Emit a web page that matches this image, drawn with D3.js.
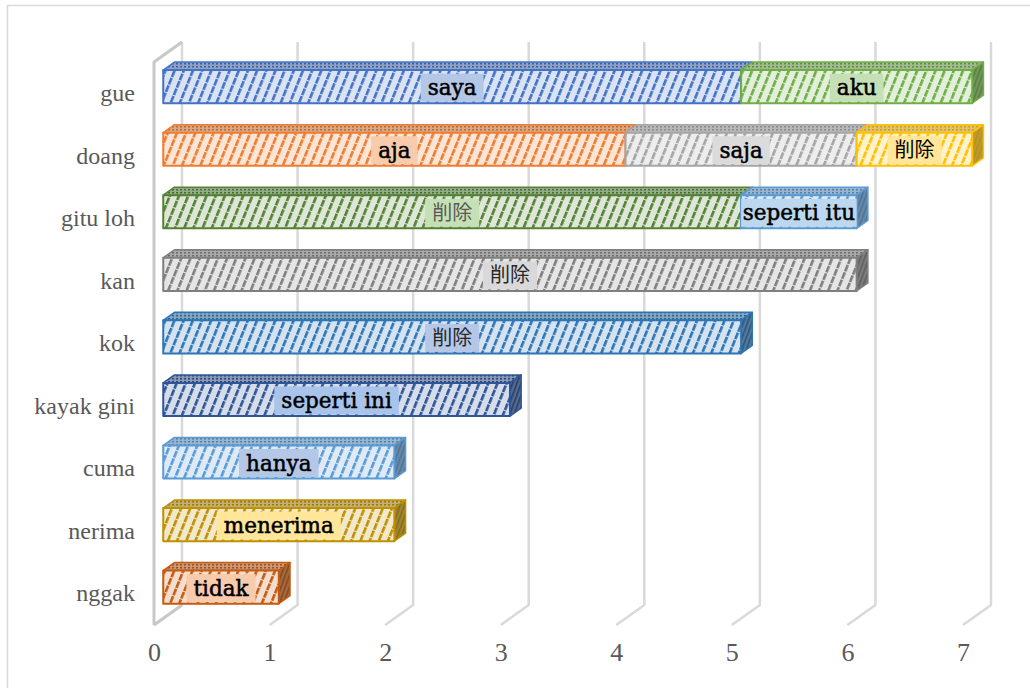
<!DOCTYPE html>
<html>
<head>
<meta charset="utf-8">
<script src="https://cdn.jsdelivr.net/npm/d3@7"></script>
<style>
  html, body { margin: 0; padding: 0; background: #fff; }
  svg { display: block; }
</style>
</head>
<body>
<svg id="chart" width="1030" height="688"></svg>
<script>
// ---------- data ----------
const categories = ["gue", "doang", "gitu loh", "kan", "kok", "kayak gini", "cuma", "nerima", "nggak"];
const segmentLabels = [
  ["saya", "aku"],
  ["aja", "saja", "削除"],
  ["削除", "seperti itu"],
  ["削除"],
  ["削除"],
  ["seperti ini"],
  ["hanya"],
  ["menerima"],
  ["tidak"]
];
const segmentValues = [
  [5, 2],
  [4, 2, 1],
  [5, 1],
  [6],
  [5],
  [3],
  [2],
  [2],
  [1]
];
const tickValues = [0, 1, 2, 3, 4, 5, 6, 7];

// ---------- styles ----------
const segmentColors = [
  ["#4472c4", "#70ad47"],
  ["#ed7d31", "#a5a5a5", "#ffc000"],
  ["#548235", "#5b9bd5"],
  ["#7f7f7f"],
  ["#2e75b6"],
  ["#2f5597"],
  ["#5b9bd5"],
  ["#bf9000"],
  ["#c55a11"]
];
const labelBgColors = [
  ["#b4c7e7", "#c5e0b4"],
  ["#f8cbad", "#dbdbdb", "#ffe699"],
  ["#c5e0b4", "#bdd7ee"],
  ["#d9d9d9"],
  ["#b4c7e7"],
  ["#a9c4eb"],
  ["#b4c7e7"],
  ["#ffe699"],
  ["#f8cbad"]
];
const labelTextColors = [
  ["#000", "#000"],
  ["#000", "#000", "#000"],
  ["#595959", "#000"],
  ["#262626"],
  ["#262626"],
  ["#000"],
  ["#000"],
  ["#000"],
  ["#000"]
];

const svg = d3.select("#chart");

// chart border
svg.append("rect").attr("x", 7.5).attr("y", 5.5).attr("width", 1040).attr("height", 700)
  .attr("fill", "none").attr("stroke", "#d9d9d9").attr("stroke-width", 1.5);

// 3D geometry
const depthDX = 28, depthDY = -20;        // full depth offset of the walls
const barD0 = 0.33, barD1 = 0.73;         // bar depth range (fraction)
const x = d3.scaleLinear().domain([0, 7]).range([154, 963]);  // front plane
const y = d3.scaleBand().domain(categories).range([62, 625]).paddingInner(0.47).paddingOuter(0.235);
const floorY = 625, ceilY = 62;
const P = (v, yy, d) => [x(v) + depthDX * d, yy + depthDY * d];

// gridlines (back plane) + floor
const grid = svg.append("g");
tickValues.forEach(t => {
  const b = P(t, 0, 1)[0];
  const f = x(t);
  grid.append("path")
    .attr("d", `M${b},${ceilY + depthDY} L${b},${floorY + depthDY} L${f},${floorY}`)
    .attr("fill", "none").attr("stroke", "#d9d9d9").attr("stroke-width", 2.5)
    .attr("stroke-linejoin", "round");
});
// left wall
svg.append("path")
  .attr("d", `M${x(0)},${floorY} L${x(0)},${ceilY} L${x(0) + depthDX},${ceilY + depthDY}`)
  .attr("fill", "none").attr("stroke", "#c8c8c8").attr("stroke-width", 3).attr("stroke-linejoin", "round");
svg.append("path")
  .attr("d", `M${x(0)},${floorY} L${x(0) + depthDX},${floorY + depthDY}`)
  .attr("fill", "none").attr("stroke", "#c8c8c8").attr("stroke-width", 3);

// axis tick labels
const xAxis = d3.axisBottom(x).tickValues(tickValues).tickSize(0).tickPadding(0).tickFormat(d3.format("d"));
const gx = svg.append("g").attr("transform", `translate(0,${643})`).call(xAxis);
gx.select(".domain").remove();
gx.selectAll("text").attr("font-family", "'Liberation Serif', serif").attr("font-size", 26)
  .attr("fill", "#595959").attr("dy", "0.71em");

// category labels
const yAxis = d3.axisLeft(y).tickSize(0).tickPadding(0);
const gy = svg.append("g").attr("transform", `translate(135,0)`).call(yAxis);
gy.select(".domain").remove();
gy.selectAll("text").attr("font-family", "'Liberation Serif', serif").attr("font-size", 24)
  .attr("fill", "#595959").attr("dy", "0.32em");

// patterns
const defs = svg.append("defs");
const mix = (a, b, t) => d3.interpolateRgb(a, b)(t);
function makePatterns(id, c) {
  const light = mix(c, "#ffffff", 0.8);
  const p1 = defs.append("pattern").attr("id", "f" + id).attr("patternUnits", "userSpaceOnUse")
    .attr("width", 8.5).attr("height", 8).attr("patternTransform", "rotate(22)");
  p1.append("rect").attr("width", 8.5).attr("height", 8).attr("fill", light);
  p1.append("rect").attr("x", 0).attr("y", 0).attr("width", 2.6).attr("height", 7).attr("fill", c);
  const topBg = mix(mix(c, "#a6a6a6", 0.5), "#ffffff", 0.2);
  const p2 = defs.append("pattern").attr("id", "t" + id).attr("patternUnits", "userSpaceOnUse")
    .attr("width", 4).attr("height", 3);
  p2.append("rect").attr("width", 4).attr("height", 3).attr("fill", topBg);
  p2.append("rect").attr("width", 2).attr("height", 1.5).attr("fill", d3.color(c).darker(0.5));
  const sideBg = mix(c, "#7a7a7a", 0.55);
  const p3 = defs.append("pattern").attr("id", "s" + id).attr("patternUnits", "userSpaceOnUse")
    .attr("width", 4).attr("height", 4).attr("patternTransform", "rotate(20)");
  p3.append("rect").attr("width", 4).attr("height", 4).attr("fill", sideBg);
  p3.append("rect").attr("width", 1.6).attr("height", 4).attr("fill", d3.color(c).darker(0.8));
}

// bars
const bars = svg.append("g");
const labels = svg.append("g");
categories.forEach((cat, i) => {
  const yTopF = y(cat), yBotF = y(cat) + y.bandwidth();
  let cum = 0;
  const vals = segmentValues[i];
  vals.forEach((v, j) => {
    const id = `${i}_${j}`;
    const c = segmentColors[i][j];
    makePatterns(id, c);
    const a = cum, b = cum + v;
    cum = b;
    const fTL = P(a, yTopF, barD0), fTR = P(b, yTopF, barD0);
    const fBR = P(b, yBotF, barD0), fBL = P(a, yBotF, barD0);
    const bTL = P(a, yTopF, barD1), bTR = P(b, yTopF, barD1), bBR = P(b, yBotF, barD1);
    const g = bars.append("g");
    g.append("path").attr("d", `M${fTL}L${fTR}L${bTR}L${bTL}Z`)
      .attr("fill", `url(#t${id})`).attr("stroke", c).attr("stroke-width", 1.5).attr("stroke-linejoin", "round");
    if (j === vals.length - 1) {
      g.append("path").attr("d", `M${fTR}L${bTR}L${bBR}L${fBR}Z`)
        .attr("fill", `url(#s${id})`).attr("stroke", c).attr("stroke-width", 1.5).attr("stroke-linejoin", "round");
    }
    g.append("path").attr("d", `M${fTL}L${fTR}L${fBR}L${fBL}Z`)
      .attr("fill", `url(#f${id})`).attr("stroke", c).attr("stroke-width", 2).attr("stroke-linejoin", "round");

    // label
    const txt = segmentLabels[i][j];
    const isCJK = /[\u3000-\u9fff]/.test(txt);
    const cx = (fTL[0] + fTR[0]) / 2, cy = (fTL[1] + fBL[1]) / 2 + 1;
    const lg = labels.append("g");
    const rect = lg.append("rect");
    const tc = labelTextColors[i][j];
    const t = lg.append("text").attr("x", cx).attr("y", cy).attr("dy", "0.35em")
      .attr("text-anchor", "middle")
      .attr("font-family", isCJK ? "'Noto Sans CJK JP', sans-serif" : "'DejaVu Serif', serif")
      .attr("font-size", isCJK ? 20 : 21.5)
      .attr("fill", tc).attr("stroke", isCJK ? "none" : tc).attr("stroke-width", 0.5)
      .text(txt);
    const tw = t.node().getComputedTextLength();
    const bw = Math.min(tw + 14, fTR[0] - fTL[0]);
    rect.attr("x", cx - bw / 2).attr("y", cy - 14).attr("width", bw).attr("height", 28)
      .attr("fill", labelBgColors[i][j]);
  });
});
</script>
</body>
</html>
